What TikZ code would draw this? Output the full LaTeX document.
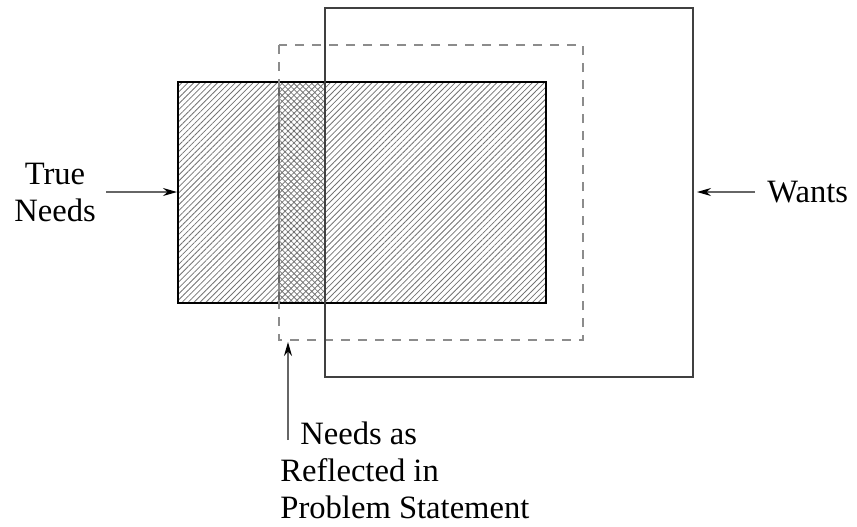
\documentclass[tikz,border=0pt]{standalone}
\usepackage{fontspec}
\setmainfont{Liberation Serif}
\usetikzlibrary{arrows.meta,patterns.meta}

\begin{document}
\begin{tikzpicture}[x=0.5pt,y=-0.5pt,
  lbl/.style={inner sep=0pt,font=\fontsize{16.3}{18.5}\selectfont},
  ptr/.style={-{Stealth[length=7pt,width=4pt,black]},line width=0.6pt,black!60},
  hatch/.style={pattern={Lines[angle=45,distance=2.1pt,line width=0.4pt]},pattern color=black!55}]
  \useasboundingbox (0,0) rectangle (857,526);
  % corners of the three areas
  \coordinate (tnA) at (178,82);  \coordinate (tnB) at (546,303);
  \coordinate (psA) at (279,45);  \coordinate (psB) at (583,340);
  \coordinate (wA) at (325,8);    \coordinate (wB) at (693,377);
  % true needs, hatched
  \fill[hatch] (tnA) rectangle (tnB);
  \fill[pattern={Lines[angle=-45,distance=2.1pt,line width=0.4pt]},pattern color=black!55]
    (psA |- tnA) rectangle (wA |- tnB);
  \draw[line width=0.6pt,black!60] (psA |- tnA) -- (psA |- tnB);
  \draw[line width=0.7pt] (tnA) rectangle (tnB);
  % problem statement, dashed
  \draw[line width=0.7pt,black!45,dash pattern=on 4.5pt off 4pt] (psA) rectangle (psB);
  % wants
  \draw[line width=0.7pt,black!75] (wA) rectangle (wB);
  % labels
  \node[lbl,align=center] (tneeds) at (55,192) {True\\Needs};
  \node[lbl,anchor=west] (wants) at (767,192) {Wants};
  \node[lbl,align=left,anchor=north west] (stmt) at (280,421)
    {\hspace*{10pt}Needs as\\Reflected in\\Problem Statement};
  \coordinate (tnIn) at (177,192);
  \coordinate (wIn) at (697,192);
  \coordinate (stmtFoot) at (288,440);
  \coordinate (psIn) at (288,342);
  \draw[ptr] ([xshift=5pt]tneeds.east) -- (tnIn);
  \draw[ptr] ([xshift=-6pt]wants.west) -- (wIn);
  \draw[ptr] (stmtFoot) -- (psIn);
\end{tikzpicture}
\end{document}
